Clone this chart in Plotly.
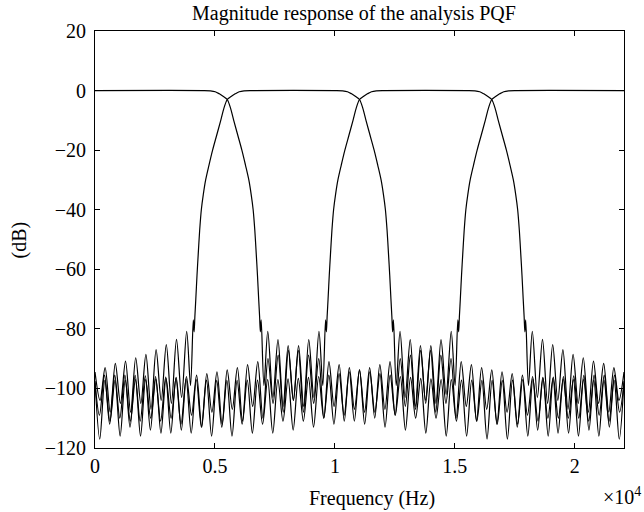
import plotly.graph_objects as go

# ---------------- data ----------------
x_tick_vals = [0, 5000, 10000, 15000, 20000]
x_tick_text = ["0", "0.5", "1", "1.5", "2"]
y_tick_vals = [20, 0, -20, -40, -60, -80, -100, -120]
y_tick_text = ["20", "0", "\u221220", "\u221240", "\u221260", "\u221280", "\u2212100", "\u2212120"]

# Band 0 (lowpass)
b0_pass_f = [0, 4512, 4812, 5012, 5182, 5352, 5512, 5652, 5782, 5952, 6122, 6272, 6412, 6512, 6592, 6662,
             6722, 6772, 6822, 6862, 6892]
b0_pass_db = [0, 0, -0.1, -0.4, -1.1, -2, -3, -6, -10, -15, -20, -25, -30, -35, -40, -47,
              -55, -62, -70, -76, -81]
b0_stop_f = [6927, 7042, 7202, 7415, 7627, 7840, 8052, 8265, 8477, 8690, 8902, 9115, 9327, 9540, 9752, 9965,
             10177, 10390, 10602, 10815, 11027, 11240, 11452, 11665, 11877, 12090, 12302, 12515, 12727, 12940,
             13152, 13365, 13577, 13790, 14002, 14215, 14427, 14640, 14852, 15065, 15277, 15490, 15702, 15915,
             16127, 16340, 16552, 16765, 16977, 17190, 17402, 17615, 17827, 18040, 18252, 18465, 18677, 18890,
             19102, 19315, 19527, 19740, 19952, 20165, 20377, 20590, 20802, 21015, 21227, 21440, 21652, 21865, 22050]
b0_stop_db = [-77, -99, -80.8, -103, -83.6, -106, -85.6, -104, -87.2, -108, -88.8, -105, -90, -110, -91, -106,
              -92, -111, -93, -107, -93.8, -112, -94.4, -108, -95, -113, -95.5, -109, -96, -114,
              -96.3, -110, -96.6, -115, -96.8, -110, -97, -116, -97, -111, -97.2, -116, -97.2, -111,
              -97.3, -117, -97.3, -112, -97.3, -117, -97.2, -112, -97, -116, -96.8, -111, -96.5, -116,
              -96.2, -110, -96, -115, -95.8, -110, -95.6, -114, -95.5, -109, -95.5, -113, -95.5, -108, -98]

# Band 1
b1_left_f = [0, 210, 422, 635, 847, 1060, 1272, 1485, 1697, 1910, 2122, 2335, 2547, 2760, 2972, 3185, 3397,
             3610, 3822, 3982, 4097]
b1_left_db = [-94.5, -104, -93, -108, -91.6, -105, -90.8, -108, -89.7, -105, -88.6, -107, -87, -104, -85.3, -105,
              -83.5, -103, -80.8, -99, -77]
b1_pass_f = [4132, 4162, 4202, 4252, 4302, 4362, 4432, 4512, 4612, 4752, 4902, 5072, 5242, 5372, 5512, 5672,
             5842, 6012, 6212, 6512, 10025, 10325, 10525, 10695, 10865, 11025, 11165, 11295, 11465, 11635,
             11785, 11925, 12025, 12105, 12175, 12235, 12285, 12335, 12375, 12405]
b1_pass_db = [-81, -76, -70, -62, -55, -47, -40, -35, -30, -25, -20, -15, -10, -6, -3, -2,
              -1.1, -0.4, -0.1, 0, 0, -0.1, -0.4, -1.1, -2, -3, -6, -10, -15, -20,
              -25, -30, -35, -40, -47, -55, -62, -70, -76, -81]
b1_right_f = [12440, 12555, 12715, 12927, 13140, 13352, 13565, 13777, 13990, 14202, 14415, 14627, 14840, 15052,
              15265, 15477, 15690, 15902, 16115, 16327, 16540, 16752, 16965, 17177, 17390, 17602, 17815, 18027,
              18240, 18452, 18665, 18877, 19090, 19302, 19515, 19727, 19940, 20152, 20365, 20577, 20790, 21002,
              21215, 21427, 21640, 21852, 22050]
b1_right_db = [-77, -99, -80.8, -103, -83.6, -106, -85.6, -104, -87.2, -108, -88.8, -105, -90, -110,
               -91, -106, -92, -111, -93, -107, -93.8, -112, -94.4, -108, -95, -113, -95.5, -109,
               -96, -114, -96.3, -110, -96.6, -115, -96.8, -110, -97, -116, -97, -111, -97.2, -116,
               -97.2, -111, -97.3, -117, -97.5]

# Band 2
b2_left_f = [0, 198, 410, 623, 835, 1048, 1260, 1473, 1685, 1898, 2110, 2323, 2535, 2748, 2960, 3173, 3385,
             3598, 3810, 4023, 4235, 4448, 4660, 4873, 5085, 5298, 5510, 5723, 5935, 6148, 6360, 6573, 6785,
             6998, 7210, 7423, 7635, 7848, 8060, 8273, 8485, 8698, 8910, 9123, 9335, 9495, 9610]
b2_left_db = [-97.5, -117, -97.3, -111, -97.2, -116, -97.2, -111, -97, -116, -97, -110, -96.8, -115, -96.6, -110,
              -96.3, -114, -96, -109, -95.5, -113, -95, -108, -94.4, -112, -93.8, -107, -93, -111, -92, -106,
              -91, -110, -90, -105, -88.8, -108, -87.2, -104, -85.6, -106, -83.6, -103, -80.8, -99, -77]
b2_pass_f = [9645, 9675, 9715, 9765, 9815, 9875, 9945, 10025, 10125, 10265, 10415, 10585, 10755, 10885, 11025,
             11185, 11355, 11525, 11725, 12025, 15538, 15838, 16038, 16208, 16378, 16538, 16678, 16808, 16978,
             17148, 17298, 17438, 17538, 17618, 17688, 17748, 17798, 17848, 17888, 17918]
b2_pass_db = [-81, -76, -70, -62, -55, -47, -40, -35, -30, -25, -20, -15, -10, -6, -3,
              -2, -1.1, -0.4, -0.1, 0, 0, -0.1, -0.4, -1.1, -2, -3, -6, -10, -15,
              -20, -25, -30, -35, -40, -47, -55, -62, -70, -76, -81]
b2_right_f = [17953, 18068, 18228, 18440, 18653, 18865, 19078, 19290, 19503, 19715, 19928, 20140, 20353, 20565,
              20778, 20990, 21203, 21415, 21628, 21840, 22050]
b2_right_db = [-77, -99, -80.8, -103, -83.5, -105, -85.3, -104, -87, -107, -88.6, -105, -89.7, -108,
               -90.8, -105, -91.6, -108, -93, -104, -94.5]

# Band 3 (highpass)
b3_stop_f = [0, 185, 398, 610, 823, 1035, 1248, 1460, 1673, 1885, 2098, 2310, 2523, 2735, 2948, 3160, 3373,
             3585, 3798, 4010, 4223, 4435, 4648, 4860, 5073, 5285, 5498, 5710, 5923, 6135, 6348, 6560, 6773,
             6985, 7198, 7410, 7623, 7835, 8048, 8260, 8473, 8685, 8898, 9110, 9323, 9535, 9748, 9960, 10173,
             10385, 10598, 10810, 11023, 11235, 11448, 11660, 11873, 12085, 12298, 12510, 12723, 12935, 13148,
             13360, 13573, 13785, 13998, 14210, 14423, 14635, 14848, 15008, 15123]
b3_stop_db = [-98, -109, -95.5, -112, -95.5, -110, -95.5, -113, -95.6, -111, -95.8, -114, -96, -111, -96.2, -115,
              -96.5, -112, -96.8, -115, -97, -113, -97.2, -116, -97.3, -113, -97.3, -116, -97.3, -112, -97.2, -115,
              -97.2, -112, -97, -115, -97, -111, -96.8, -114, -96.6, -111, -96.3, -113, -96, -110, -95.5, -112,
              -95, -109, -94.4, -111, -93.8, -108, -93, -110, -92, -107, -91, -109, -90, -106, -88.8,
              -107, -87.2, -105, -85.6, -105, -83.6, -102, -80.8, -99, -77]
b3_pass_f = [15158, 15188, 15228, 15278, 15328, 15388, 15458, 15538, 15638, 15778, 15928, 16098, 16268, 16398,
             16538, 16698, 16868, 17038, 17238, 17538, 22050]
b3_pass_db = [-81, -76, -70, -62, -55, -47, -40, -35, -30, -25, -20, -15, -10, -6,
              -3, -2, -1.1, -0.4, -0.1, 0, 0]

bands = [
    (b0_pass_f + b0_stop_f, b0_pass_db + b0_stop_db),
    (b1_left_f + b1_pass_f + b1_right_f, b1_left_db + b1_pass_db + b1_right_db),
    (b2_left_f + b2_pass_f + b2_right_f, b2_left_db + b2_pass_db + b2_right_db),
    (b3_stop_f + b3_pass_f, b3_stop_db + b3_pass_db),
]

FONT = "Liberation Serif"
FS = 20

fig = go.Figure()
for fr, db in bands:
    fig.add_trace(go.Scatter(x=fr, y=db, mode="lines",
                             line=dict(color="black", width=1.2, shape="spline", smoothing=0.9),
                             showlegend=False, hoverinfo="skip"))

axis_common = dict(showline=True, linecolor="black", linewidth=1, mirror="ticks",
                   ticks="inside", ticklen=5, tickcolor="black", tickwidth=1,
                   showgrid=False, zeroline=False,
                   tickfont=dict(family=FONT, size=FS, color="black"))

fig.update_layout(
    width=644, height=512,
    margin=dict(l=95, r=20, t=31, b=64, pad=0),
    paper_bgcolor="white", plot_bgcolor="white",
    font=dict(family=FONT, size=FS, color="black"),
    xaxis=dict(range=[0, 22050], tickvals=x_tick_vals, ticktext=x_tick_text, **axis_common),
    yaxis=dict(range=[-120, 20], tickvals=y_tick_vals, ticktext=y_tick_text,
               ticklabelstandoff=4, **axis_common),
    annotations=[
        dict(text="Magnitude response of the analysis PQF", xref="paper", yref="paper",
             x=0.49, y=1.043, xanchor="center", yanchor="middle", showarrow=False,
             font=dict(family=FONT, size=FS, color="black")),
        dict(text="(dB)", xref="paper", yref="paper", x=-0.142, y=0.5, textangle=-90,
             xanchor="center", yanchor="middle", showarrow=False,
             font=dict(family=FONT, size=FS, color="black")),
        dict(text="Frequency (Hz)", xref="paper", yref="paper", x=0.523, y=-0.12,
             xanchor="center", yanchor="middle", showarrow=False,
             font=dict(family=FONT, size=FS, color="black")),
        dict(text="\u00d710<sup>4</sup>", xref="paper", yref="paper", x=1.036, y=-0.115,
             xanchor="right", yanchor="middle", showarrow=False,
             font=dict(family=FONT, size=FS, color="black")),
    ],
)

fig.write_html("out.html", config={"displayModeBar": False},
               post_script="document.body.style.margin='0px';")
